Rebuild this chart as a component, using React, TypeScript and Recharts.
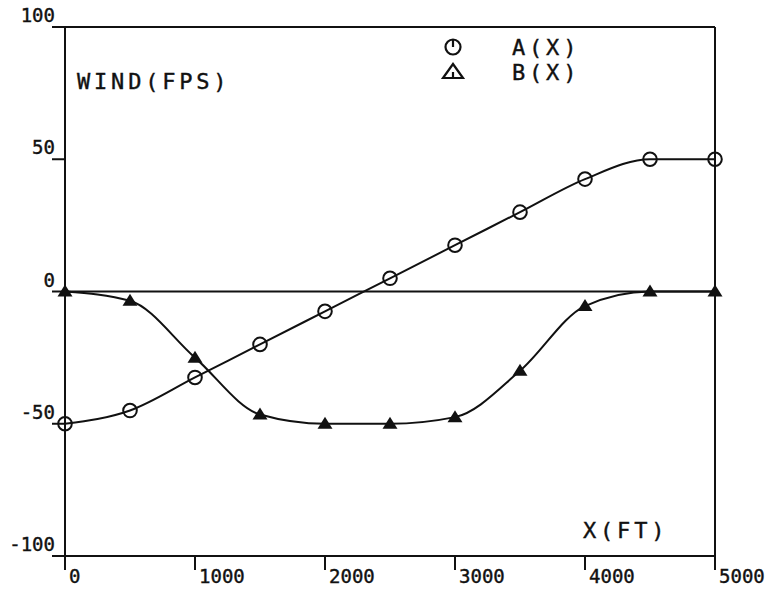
import React from 'react';
import { LineChart, Line, XAxis, YAxis, ReferenceLine } from 'recharts';

// distance along the path, ft
const xValues = [0, 500, 1000, 1500, 2000, 2500, 3000, 3500, 4000, 4500, 5000];
// A(X) wind, fps
const seriesA = [-50, -45, -32.5, -20, -7.5, 5, 17.5, 30, 42.5, 50, 50];
// B(X) wind, fps
const seriesB = [0, -3.5, -25, -46.5, -50, -50, -47.5, -30, -5.5, 0, 0];

const xTicks = [0, 1000, 2000, 3000, 4000, 5000];
const yTicks = [-100, -50, 0, 50, 100];

const legendItems = [
    { name: 'A(X)', symbol: 'circle' },
    { name: 'B(X)', symbol: 'triangle' },
];

const data = xValues.map((x, i) => ({ x, a: seriesA[i], b: seriesB[i] }));

const FONT = '"DejaVu Sans Mono", "Liberation Mono", monospace';
const INK = '#111';

const CircleDot = (props: any) => {
    const { cx, cy, index } = props;
    if (cx == null || cy == null) return <g key={`ca-${index}`} />;
    return <circle key={`ca-${index}`} cx={cx} cy={cy} r={6.8} fill="none" stroke={INK} strokeWidth={2} />;
};

const TriangleDot = (props: any) => {
    const { cx, cy, index } = props;
    if (cx == null || cy == null) return <g key={`tb-${index}`} />;
    return (
        <path
            key={`tb-${index}`}
            d={`M${cx},${cy - 7} L${cx + 7.5},${cy + 5} L${cx - 7.5},${cy + 5} Z`}
            fill={INK}
        />
    );
};

const YTick = ({ x, y, payload }: any) => (
    <text x={x + 5} y={y - 5} textAnchor="end" fontFamily={FONT} fontSize={19} fill={INK} stroke={INK} strokeWidth={0.4}>
        {payload.value}
    </text>
);

const XTick = ({ x, y, payload }: any) => (
    <text x={x + 4} y={y + 11} textAnchor="start" fontFamily={FONT} fontSize={19} fill={INK} stroke={INK} strokeWidth={0.4}>
        {payload.value}
    </text>
);

const YLabel = ({ viewBox }: any) => {
    const left = viewBox.x + viewBox.width;
    const top = viewBox.y;
    return (
        <g fontFamily={FONT} fontSize={22} fill={INK} letterSpacing={3.8}>
            <text x={left + 12} y={top + 62} stroke={INK} strokeWidth={0.4}>WIND(FPS)</text>
            {legendItems.map((item, i) => {
                const sy = top + 20 + i * 25;
                return (
                    <g key={item.name}>
                        {item.symbol === 'circle' ? (
                            <g stroke={INK} strokeWidth={2.2} fill="none">
                                <circle cx={left + 388} cy={sy} r={7.5} />
                                <line x1={left + 388} y1={sy - 7.5} x2={left + 388} y2={sy} />
                            </g>
                        ) : (
                            <g stroke={INK} strokeWidth={2.2} fill="none">
                                <path d={`M${left + 388},${sy - 8} L${left + 398},${sy + 6} L${left + 378},${sy + 6} Z`} />
                                <line x1={left + 388} y1={sy} x2={left + 388} y2={sy + 5} />
                            </g>
                        )}
                        <text x={left + 447} y={sy + 8} stroke={INK} strokeWidth={0.4}>{item.name}</text>
                    </g>
                );
            })}
        </g>
    );
};

const XLabel = ({ viewBox }: any) => (
    <text x={viewBox.x + 518} y={viewBox.y - 18} fontFamily={FONT} fontSize={22} fill={INK} stroke={INK} strokeWidth={0.4} letterSpacing={3.8}>
        X(FT)
    </text>
);

export default function App() {
    return (
        <div style={{ position: 'absolute', left: 0, top: 0, width: 775, height: 592, background: '#fff' }}>
            <LineChart width={775} height={592} data={data} margin={{ top: 27, right: 60, bottom: 0, left: 0 }}>
                <XAxis
                    dataKey="x"
                    type="number"
                    domain={[0, 5000]}
                    ticks={xTicks}
                    height={36}
                    tickSize={14}
                    axisLine={{ stroke: INK, strokeWidth: 2 }}
                    tickLine={{ stroke: INK, strokeWidth: 2 }}
                    tick={<XTick />}
                    label={<XLabel />}
                    interval={0}
                />
                <YAxis
                    type="number"
                    domain={[-100, 100]}
                    ticks={yTicks}
                    width={65}
                    tickSize={13}
                    axisLine={{ stroke: INK, strokeWidth: 2 }}
                    tickLine={{ stroke: INK, strokeWidth: 2 }}
                    tick={<YTick />}
                    label={<YLabel />}
                    interval={0}
                />
                <ReferenceLine y={100} stroke={INK} strokeWidth={2} />
                <ReferenceLine y={0} stroke={INK} strokeWidth={2} />
                <ReferenceLine x={5000} stroke={INK} strokeWidth={2} />
                <Line
                    type="monotone"
                    dataKey="a"
                    stroke={INK}
                    strokeWidth={2}
                    dot={<CircleDot />}
                    isAnimationActive={false}
                />
                <Line
                    type="monotone"
                    dataKey="b"
                    stroke={INK}
                    strokeWidth={2}
                    dot={<TriangleDot />}
                    isAnimationActive={false}
                />
            </LineChart>
        </div>
    );
}
